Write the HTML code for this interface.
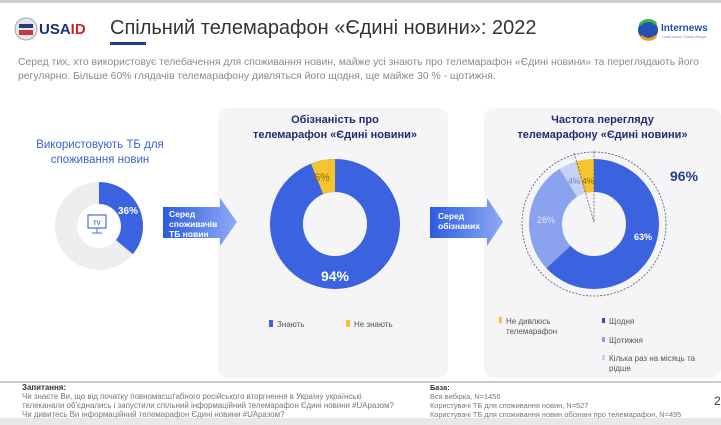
<!DOCTYPE html><html><head><meta charset="utf-8"><style>
body{margin:0;width:721px;height:425px;background:#fff;overflow:hidden;position:relative;font-family:"Liberation Sans",sans-serif}
.a{position:absolute;white-space:nowrap}
</style></head><body>
<div class="a" style="left:0;top:0;width:721px;height:3px;background:#ccc"></div>
<div class="a" style="left:0;top:418px;width:721px;height:7px;background:#e8e8ea"></div>
<div class="a" style="left:218px;top:108px;width:230px;height:270px;background:#f5f5f7;border-radius:10px"></div>
<div class="a" style="left:484px;top:108px;width:237px;height:270px;background:#f5f5f7;border-radius:10px"></div>
<svg class="a" style="left:0;top:0" width="721" height="425">
<defs><linearGradient id="g" x1="0" x2="1"><stop offset="0" stop-color="#2c5be0"/><stop offset="1" stop-color="#8fabf5"/></linearGradient></defs>
<circle cx="26" cy="29" r="11" fill="#e4e6ee" stroke="#9aa" stroke-width="1"/>
<rect x="19" y="24" width="14" height="4" fill="#2a3a80"/><rect x="19" y="30" width="14" height="5" fill="#c5383d"/>
<text x="39" y="34" font-size="15" font-weight="bold" fill="#1c2f7a">USA<tspan fill="#c8242e">ID</tspan></text>
<rect x="110" y="42" width="36" height="3" fill="#1f3b8f"/>
<circle cx="648" cy="30" r="10" fill="#2451b5"/><path d="M640 25 A10 10 0 0 1 656 24" stroke="#3ab54a" stroke-width="3" fill="none"/><path d="M641 36 A10 10 0 0 0 656 36" stroke="#f29a24" stroke-width="3" fill="none"/>
<text x="661" y="31" font-size="10" font-weight="bold" fill="#1d4fa8">Internews</text>
<text x="662" y="38" font-size="3.5" fill="#6a8ac0">Local voices. Global change.</text>
<circle cx="99" cy="226" r="33" fill="none" stroke="#ededed" stroke-width="22"/>
<circle cx="99" cy="226" r="33" fill="none" stroke="#3b63e0" stroke-width="22" stroke-dasharray="74.6 300" transform="rotate(-90 99 226)"/>
<rect x="88" y="215" width="18" height="13" fill="none" stroke="#4a6fe0" stroke-width="1.2"/>
<line x1="97" y1="228" x2="97" y2="233" stroke="#4a6fe0"/><line x1="92" y1="233" x2="102" y2="233" stroke="#4a6fe0"/>
<text x="93" y="225" font-size="6" fill="#4a6fe0" font-weight="bold">TV</text>
<text x="118" y="214" font-size="10" font-weight="bold" fill="#fff">36%</text>
<path d="M163 207H220V198L237 222L220 246V238H163Z" fill="url(#g)"/>
<path d="M430 207H487V198L503 222L487 246V238H430Z" fill="url(#g)"/>
<text font-size="8.5" font-weight="bold" fill="#fff"><tspan x="169" y="217">Серед</tspan><tspan x="169" y="227">споживачів</tspan><tspan x="169" y="237">ТБ новин</tspan></text>
<text font-size="8.5" font-weight="bold" fill="#fff"><tspan x="438" y="219">Серед</tspan><tspan x="438" y="229">обізнаних</tspan></text>
<circle cx="335" cy="224" r="48.5" fill="none" stroke="#3b63e0" stroke-width="33"/>
<circle cx="335" cy="224" r="48.5" fill="none" stroke="#f5c430" stroke-width="33" stroke-dasharray="18.3 300" transform="rotate(248.4 335 224)"/>
<text x="314" y="181" font-size="11" fill="#8a6a00">6%</text>
<text x="335" y="281" font-size="14" font-weight="bold" fill="#fff" text-anchor="middle">94%</text>
<circle cx="594" cy="224" r="72" fill="none" stroke="#556" stroke-width="0.8" stroke-dasharray="2 1.5"/>
<circle cx="594" cy="224" r="48.5" fill="none" stroke="#3b63e0" stroke-width="33" stroke-dasharray="192 300" transform="rotate(-90 594 224)"/>
<circle cx="594" cy="224" r="48.5" fill="none" stroke="#8ba3ee" stroke-width="33" stroke-dasharray="85.3 400" stroke-dashoffset="-192" transform="rotate(-90 594 224)"/>
<circle cx="594" cy="224" r="48.5" fill="none" stroke="#c6d2f5" stroke-width="33" stroke-dasharray="13 400" stroke-dashoffset="-277.3" transform="rotate(-90 594 224)"/>
<circle cx="594" cy="224" r="48.5" fill="none" stroke="#f5c430" stroke-width="33" stroke-dasharray="14.4 400" stroke-dashoffset="-290.3" transform="rotate(-90 594 224)"/>
<path d="M574 153 L594 222 L594 150" fill="none" stroke="#556" stroke-width="0.8" stroke-dasharray="2 1.5"/>
<text x="568" y="184" font-size="8.5" fill="#7a86a8">4%</text><text x="582" y="184" font-size="8.5" fill="#8a6a00">4%</text>
<text x="537" y="223" font-size="9" fill="#dfe6fb">28%</text>
<text x="634" y="240" font-size="9" font-weight="bold" fill="#fff">63%</text>
<text x="670" y="181" font-size="14" font-weight="bold" fill="#243c8c">96%</text>
<rect x="269" y="320" width="4" height="7" fill="#3b63e0"/><text x="277" y="327" font-size="8" fill="#555">Знають</text>
<rect x="346" y="320" width="4" height="7" fill="#f5c430"/><text x="354" y="327" font-size="8" fill="#555">Не знають</text>
<rect x="499" y="317" width="3" height="6" fill="#f5c430"/><text font-size="8" fill="#555"><tspan x="506" y="324">Не дивлюсь</tspan><tspan x="506" y="334">телемарафон</tspan></text>
<rect x="602" y="318" width="3" height="5" fill="#2d4fc0"/><text x="609" y="324" font-size="8" fill="#555">Щодня</text>
<rect x="602" y="337" width="3" height="5" fill="#8ba3ee"/><text x="609" y="343" font-size="8" fill="#555">Щотижня</text>
<rect x="602" y="355" width="3" height="5" fill="#c6d2f5"/><text font-size="8" fill="#555"><tspan x="609" y="361">Кілька раз на місяць та</tspan><tspan x="609" y="371">рідше</tspan></text>
<line x1="0" y1="382" x2="721" y2="382" stroke="#bbb" stroke-width="1.5"/>
</svg>
<div class="a" style="left:110px;top:17px;font-size:20px;color:#333">Спільний телемарафон «Єдині новини»: 2022</div>
<div class="a" style="left:18px;top:56px;font-size:10.4px;line-height:14px;color:#8a8a8a">Серед тих, хто використовує телебачення для споживання новин, майже усі знають про телемарафон «Єдині новини» та переглядають його<br>регулярно. Більше 60% глядачів телемарафону дивляться його щодня, ще майже 30 %  - щотижня.</div>
<div class="a" style="left:30px;top:138px;width:140px;text-align:center;font-size:11.5px;line-height:15px;color:#3d5fcf;white-space:normal">Використовують ТБ для споживання новин</div>
<div class="a" style="left:220px;top:113px;width:230px;text-align:center;font-size:11px;font-weight:bold;line-height:15px;color:#1f2d6e">Обізнаність про<br>телемарафон «Єдині новини»</div>
<div class="a" style="left:484px;top:113px;width:237px;text-align:center;font-size:11px;font-weight:bold;line-height:15px;color:#1f2d6e">Частота перегляду<br>телемарафону «Єдині новини»</div>
<div class="a" style="left:22px;top:383px;font-size:7.9px;line-height:9px;color:#777"><b style="color:#333">Запитання:</b><br>Чи знаєте Ви, що від початку повномасштабного російського вторгнення в Україну українські<br>телеканали об'єднались і запустили спільний інформаційний телемарафон Єдині новини #UAразом?<br>Чи дивитесь Ви інформаційний телемарафон Єдині новини #UAразом?</div>
<div class="a" style="left:430px;top:383px;font-size:7.4px;line-height:9px;color:#777"><b style="color:#333">База:</b><br>Вся вибірка, N=1456<br>Користувачі ТБ для споживання новин, N=527<br>Користувачі ТБ для споживання новин обізнані про телемарафон, N=495</div>
<div class="a" style="left:714px;top:394px;font-size:12px;color:#333">2</div>
</body></html>
